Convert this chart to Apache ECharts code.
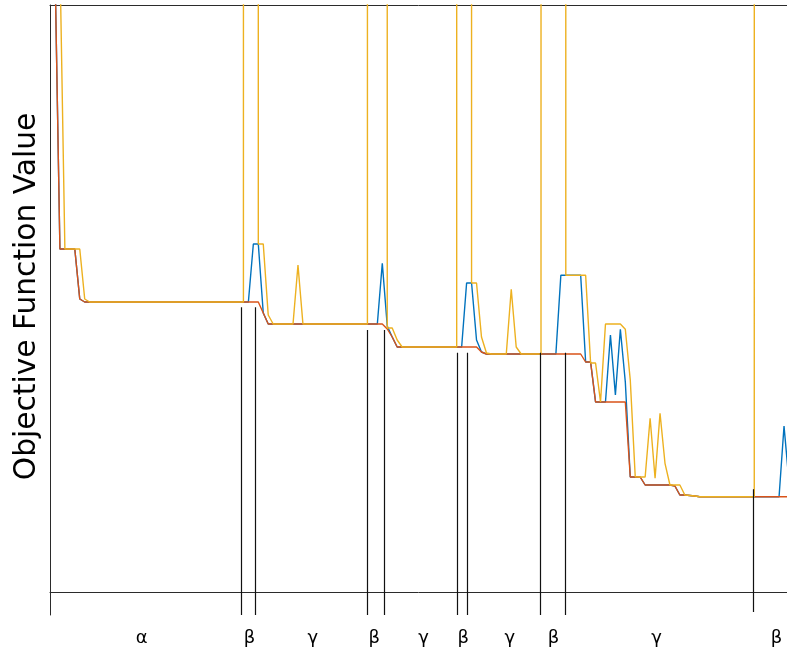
<!DOCTYPE html>
<html><head><meta charset="utf-8">
<script src="https://cdn.jsdelivr.net/npm/echarts@6/dist/echarts.min.js"></script>
<style>html,body{margin:0;padding:0;background:#fff}#c{width:787px;height:649px}</style>
</head><body><div id="c"></div>
<script>
const H = 100000; // off-scale (diverged) values
const redValues = [5000,627,343,343,343,343,293,290,290,290,
290,290,290,290,290,290,290,290,290,290,
290,290,290,290,290,290,290,290,290,290,
290,290,290,290,290,290,290,290,290,290,
290,290,290,279,268,268,268,268,268,268,
268,268,268,268,268,268,268,268,268,268,
268,268,268,268,268,268,268,268,263,255,
245,245,245,245,245,245,245,245,245,245,
245,245,245,245,245,245,245,240,238,238,
238,238,238,238,238,238,238,238,238,238,
238,238,238,238,238,238,238,238,230,230,
190,190,190,190,190,190,190,115,115,115,
107,107,107,107,107,107,106,97,97,96.5,
96,95.3,95.3,95.3,95.3,95.3,95.3,95.3,95.3,95.3,
95.3,95.3,95.3,95.3,95.3,95.3,95.3,95.3,95.3,95.3];
const blueValues = [5000,627,343,343,343,343,293,290,290,290,
290,290,290,290,290,290,290,290,290,290,
290,290,290,290,290,290,290,290,290,290,
290,290,290,290,290,290,290,290,290,290,
290,348,348,279,268,268,268,268,268,268,
268,268,268,268,268,268,268,268,268,268,
268,268,268,268,268,268,268,328.7,266,255,
245,245,245,245,245,245,245,245,245,245,
245,245,245,245,309,309,252,240,238,238,
238,238,238,238,238,238,238,238,238,238,
238,238,238,316.7,316.7,316.7,316.7,316.7,230,230,
190,190,190,257,197,262.7,210,115,115,115,
107,107,107,107,107,107,106,97,97,96.5,
96,95.3,95.3,95.3,95.3,95.3,95.3,95.3,95.3,95.3,
95.3,95.3,95.3,95.3,95.3,95.3,95.3,95.3,166,110];
const yellowValues = [H,H,633,343,343,343,343,293,290,290,
290,290,290,290,290,290,290,290,290,290,
290,290,290,290,290,290,290,290,290,290,
290,290,290,290,290,290,290,290,290,290,
H,H,348,348,277,268,268,268,268,268,
327,268,268,268,268,268,268,268,268,268,
268,268,268,268,268,H,H,H,264,264,
252,245,245,245,245,245,245,245,245,245,
245,245,245,H,H,309,309,255,239,238,
238,238,238,302.7,245,238,238,238,238,238,
H,H,H,H,316.7,316.7,316.7,316.7,316.7,229,
229,190,268,268,268,268,262.7,212,115.3,115,
115,173.7,113.7,178.7,128.7,107,107,107,97,96.5,
96,95.3,95.3,95.3,95.3,95.3,95.3,95.3,95.3,95.3,
95.3,95.3,95.3,H,H,H,H,H,H,H];
const sepX = [38.65, 41.47, 63.97, 67.34, 82.2, 84.2, 98.8, 103.97, 141.7];
const sepTop = [284.7, 284.7, 262, 262, 239.3, 239.3, 239.3, 239.3, 102.7];
const sepBottom = [-23, -23, -23, -23, -23, -23, -23, -23, -20];
const phaseLabelX = [18.5, 40.2, 53, 65.4, 75.3, 83.3, 92.7, 101.5, 122.3, 146.5];
const phaseLabels = ['α','β','γ','β','γ','β','γ','β','γ','β'];

const toPairs = arr => arr.map((v, i) => [i, v]);
const axisColor = '#2b2b2b';
const FONT = 'DejaVu Sans';

const chart = echarts.init(document.getElementById('c'), null, {renderer: 'canvas'});
chart.setOption({
  animation: false,
  backgroundColor: '#fff',
  grid: {left: 50, right: 0, top: 5, bottom: 34, containLabel: false, outerBoundsMode: 'none'},
  xAxis: [{
    type: 'value', min: 0, max: 148.6,
    axisLine: {show: true, onZero: true, lineStyle: {color: axisColor, width: 1}},
    axisTick: {show: false},
    splitLine: {show: false},
    axisLabel: {
      customValues: phaseLabelX,
      formatter: v => { const k = phaseLabelX.indexOf(v); return k >= 0 ? phaseLabels[k] : ''; },
      fontSize: 18, fontFamily: FONT, color: '#000', margin: 14
    }
  }, {
    type: 'value', position: 'top', min: 0, max: 1,
    axisLine: {show: true, onZero: false, lineStyle: {color: axisColor, width: 1}},
    axisTick: {show: false}, axisLabel: {show: false}, splitLine: {show: false}
  }],
  yAxis: {
    type: 'value', min: -23, max: 587,
    axisLine: {show: true, onZero: false, lineStyle: {color: axisColor, width: 1}},
    axisTick: {show: false}, axisLabel: {show: false}, splitLine: {show: false},
    name: 'Objective Function Value', nameLocation: 'middle', nameGap: 8,
    nameTextStyle: {fontSize: 29.7, fontFamily: FONT, color: '#000', padding: [0, 0, 0, 27]}
  },
  series: [
    {type: 'line', name: 'blue', data: toPairs(blueValues), showSymbol: false, symbol: 'none',
     lineStyle: {color: '#0072BD', width: 1.4}, itemStyle: {color: '#0072BD'}, z: 2},
    {type: 'line', name: 'red', data: toPairs(redValues), showSymbol: false, symbol: 'none',
     lineStyle: {color: '#D95319', width: 1.4}, itemStyle: {color: '#D95319'}, z: 3},
    {type: 'line', name: 'yellow', data: toPairs(yellowValues), showSymbol: false, symbol: 'none',
     lineStyle: {color: '#EDB120', width: 1.4}, itemStyle: {color: '#EDB120'}, z: 4},
    {type: 'lines', coordinateSystem: 'cartesian2d', polyline: false, z: 5,
     lineStyle: {color: '#111', width: 1.2, opacity: 1, curveness: 0},
     data: sepX.map((x, k) => ({coords: [[x, sepBottom[k]], [x, sepTop[k]]]}))}
  ]
});
</script></body></html>
